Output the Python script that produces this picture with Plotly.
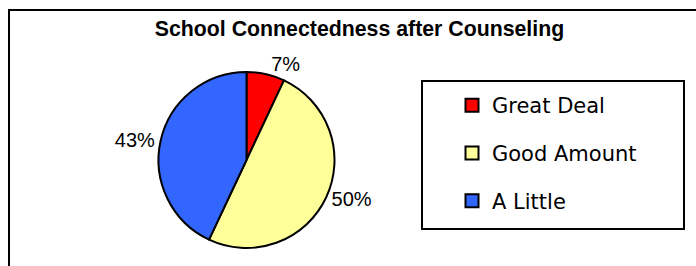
import plotly.graph_objects as go

categories = ["Great Deal", "Good Amount", "A Little"]
values = [7, 50, 43]
colors = ["#FF0000", "#FFFF99", "#3366FF"]
title_text = "School Connectedness after Counseling"

W, H = 696, 266

fig = go.Figure()

# pie (center ~ (246.5,160) px, radius ~88 px)
cx, cy, r = 246.5, 160, 88
fig.add_trace(go.Pie(
    labels=categories,
    values=values,
    marker=dict(colors=colors, line=dict(color="black", width=2)),
    sort=False,
    direction="clockwise",
    rotation=0,
    textinfo="percent",
    textposition="outside",
    outsidetextfont=dict(family="Liberation Sans, Arial", size=20, color="black"),
    showlegend=False,
    domain=dict(x=[(cx - r) / W, (cx + r) / W],
                y=[(H - cy - r) / H, (H - cy + r) / H]),
    hoverinfo="label+percent",
))

# legend entries (one group each so spacing can be controlled)
for name, col in zip(categories, colors):
    fig.add_trace(go.Scatter(
        x=[None], y=[None], mode="markers", name=name, legendgroup=name,
        marker=dict(symbol="square", size=13, color=col,
                    line=dict(color="black", width=2)),
        hoverinfo="skip",
    ))

fig.update_layout(
    width=W, height=H,
    margin=dict(l=0, r=0, t=0, b=0),
    paper_bgcolor="white", plot_bgcolor="white",
    xaxis=dict(visible=False), yaxis=dict(visible=False),
    title=dict(text="<b>" + title_text + "</b>",
               font=dict(family="Liberation Sans, Arial", size=21.3, color="black"),
               x=359.5 / W, xanchor="center", y=1 - 29 / H, yanchor="middle"),
    legend=dict(
        x=452 / W, xanchor="left", y=1 - 85 / H, yanchor="top",
        font=dict(family="DejaVu Sans, Verdana", size=21, color="black"),
        bgcolor="rgba(0,0,0,0)", borderwidth=0,
        tracegroupgap=17.5, itemsizing="trace",
    ),
    shapes=[
        # outer chart border
        dict(type="rect", xref="paper", yref="paper",
             x0=9 / W, x1=1.02, y0=-0.05, y1=1 - 10 / H,
             line=dict(color="black", width=2), fillcolor="rgba(0,0,0,0)"),
        # legend box
        dict(type="rect", xref="paper", yref="paper",
             x0=422 / W, x1=684 / W, y0=1 - 229 / H, y1=1 - 81 / H,
             line=dict(color="black", width=2), fillcolor="rgba(0,0,0,0)"),
    ],
)

fig.write_html("out.html",
               config={"displayModeBar": False},
               post_script="document.body.style.margin='0';document.body.style.overflow='hidden';")
